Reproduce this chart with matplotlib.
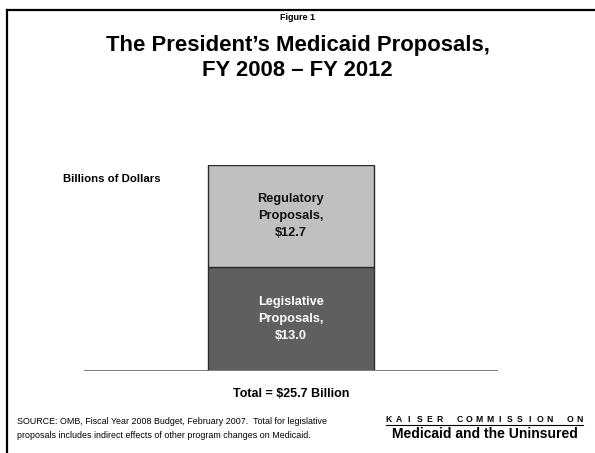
import matplotlib
matplotlib.use("Agg")
import matplotlib.pyplot as plt
from matplotlib.lines import Line2D

plt.rcParams['font.family'] = ['Liberation Sans', 'DejaVu Sans']

# Medicaid proposals, billions of dollars
segments = ["Legislative\nProposals,", "Regulatory\nProposals,"]
values = [13.0, 12.7]
fill_colors = ["#5f5f5f", "#c0c0c0"]
text_colors = ["white", "#111111"]
total_label = "Total = $25.7 Billion"

W, H = 595, 453
fig = plt.figure(figsize=(W / 100, H / 100), dpi=100)

def fx(px):
    return px / W

def fy(py):
    return 1 - py / H

# slide frame: top and left rules
fig.add_artist(Line2D([fx(6.5), 1.0], [fy(9.5), fy(9.5)], color="black", lw=1.6))
fig.add_artist(Line2D([fx(6.5), fx(6.5)], [fy(9.5), 0.0], color="black", lw=1.6))

# stacked bar axes
ax = fig.add_axes([fx(84), fy(371), fx(498) - fx(84), (371 - 165) / H])
bottom = 0
for label, val, fc, tc in zip(segments, values, fill_colors, text_colors):
    ax.bar(0, val, width=0.4, bottom=bottom, color=fc, edgecolor="#2a2a2a", linewidth=1.0)
    ax.text(0, bottom + val * 0.5, f"{label}\n${val:.1f}", ha="center", va="center",
            color=tc, fontsize=9.2, fontweight="bold", linespacing=1.58)
    bottom += val
ax.set_xlim(-0.5, 0.5)
ax.set_ylim(0, sum(values))
ax.axhline(0, color="#808080", lw=2.2, zorder=5)
ax.axis("off")

fig.text(0.5, fy(17), "Figure 1", ha="center", va="center", fontsize=6.5, fontweight="bold")
fig.text(0.5, fy(46), "The President\u2019s Medicaid Proposals,", ha="center", va="center",
         fontsize=15.9, fontweight="bold")
fig.text(0.5, fy(71), "FY 2008 \u2013 FY 2012", ha="center", va="center",
         fontsize=15.9, fontweight="bold")
fig.text(fx(63), fy(179), "Billions of Dollars", ha="left", va="center", fontsize=8.2, fontweight="bold")
fig.text(fx(291), fy(394), total_label, ha="center", va="center", fontsize=9, fontweight="bold")

fig.text(fx(17), fy(422), "SOURCE: OMB, Fiscal Year 2008 Budget, February 2007.  Total for legislative",
         ha="left", va="center", fontsize=6.4)
fig.text(fx(17), fy(435), "proposals includes indirect effects of other program changes on Medicaid.",
         ha="left", va="center", fontsize=6.4)

# Kaiser logo: tracked capitals over an underline, then the name
logo_caps = "KAISER COMMISSION ON"
x0, x1 = 389, 580
step = (x1 - x0) / (len(logo_caps) - 1)
for i, ch in enumerate(logo_caps):
    fig.text(fx(x0 + i * step), fy(420), ch, ha="center", va="center", fontsize=6.2, fontweight="bold")
fig.add_artist(Line2D([fx(386), fx(583)], [fy(424.5), fy(424.5)], color="black", lw=0.8))
fig.text(fx(485), fy(434), "Medicaid and the Uninsured", ha="center", va="center",
         fontsize=10, fontweight="bold")

fig.savefig("out.png", dpi=100)
